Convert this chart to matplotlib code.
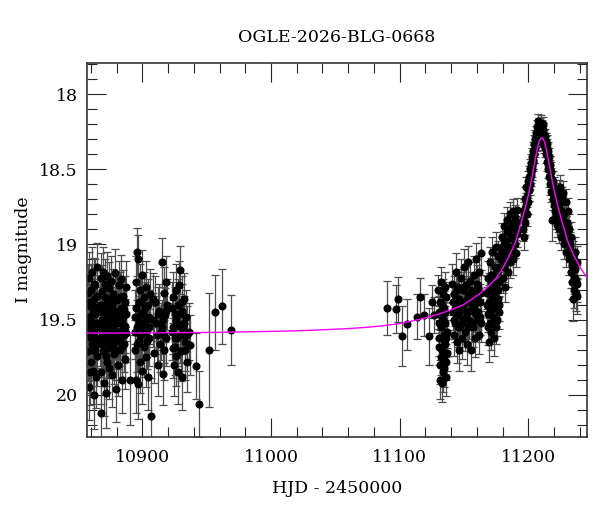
import numpy as np
from matplotlib import pyplot as plt
from matplotlib.ticker import MultipleLocator

# ---- photometry (HJD - 2450000, I mag, error) ----
hjd = [10857.6, 10857.9, 10858.3, 10858.6, 10858.9, 10859.2, 10859.5, 10859.8, 10860.1, 10860.4,
       10860.7, 10861.0, 10861.3, 10861.6, 10861.9, 10862.2, 10862.5, 10862.8, 10863.1, 10863.4,
       10863.7, 10864.0, 10864.3, 10864.6, 10864.9,
       10867.0, 10867.3, 10867.6, 10867.9, 10868.2, 10868.5, 10868.8, 10869.1, 10869.4, 10869.7,
       10870.0, 10870.3, 10870.6, 10870.9, 10871.2, 10871.5, 10871.8, 10872.1, 10872.4, 10872.7,
       10873.0, 10873.3, 10873.6, 10873.9, 10874.2, 10874.5, 10875.0, 10875.5, 10876.0, 10876.5,
       10877.0, 10877.5, 10878.0, 10878.5, 10879.0, 10879.5, 10880.0, 10880.5, 10881.0, 10881.5,
       10882.0, 10882.5, 10883.0, 10883.5, 10884.0, 10884.5, 10885.0, 10885.5, 10886.0, 10886.5,
       10887.0, 10887.5, 10890.2,
       10894.0, 10894.4, 10894.8, 10895.2, 10895.6, 10896.0, 10896.4, 10896.8, 10897.2, 10897.6,
       10898.0, 10898.4, 10898.8, 10899.2, 10899.6, 10900.0, 10900.5, 10901.0, 10901.5, 10902.0,
       10902.5, 10903.0, 10903.5, 10904.0, 10904.5, 10905.0, 10906.0, 10907.0, 10908.0, 10909.0,
       10910.0, 10911.0, 10912.0, 10913.0, 10914.0, 10915.0, 10915.5, 10916.0, 10916.5, 10917.0,
       10917.5, 10918.0, 10918.5, 10919.0,
       10923.0, 10923.5, 10924.0, 10924.5, 10925.0, 10925.5, 10926.0, 10926.5, 10927.0, 10927.5,
       10928.0, 10928.5, 10929.0, 10929.5, 10930.0, 10930.5, 10931.0, 10931.5, 10932.0, 10933.0,
       10934.0, 10935.0, 10936.0, 10937.0,
       10942.0, 10944.0, 10952.0, 10956.4, 10961.6, 10968.6,
       11090.3, 11096.9, 11098.9, 11101.8, 11105.9, 11113.7, 11115.8, 11118.6, 11122.8, 11124.8,
       11126.9,
       11130.2, 11130.5, 11130.8, 11131.1, 11131.4, 11131.7, 11132.0, 11132.3, 11132.6, 11132.9,
       11133.2, 11133.5, 11133.8, 11134.1, 11134.4, 11134.7, 11135.0, 11135.3, 11135.6, 11135.9,
       11136.2, 11136.5, 11136.8,
       11141.0, 11141.5, 11142.0, 11142.5, 11143.0, 11143.5, 11144.0, 11144.5, 11145.0, 11145.5,
       11146.0, 11146.5, 11147.0, 11147.5, 11148.0, 11148.5, 11149.0, 11149.5, 11150.0, 11150.5,
       11151.0, 11151.5, 11152.0, 11152.5, 11153.0, 11153.5, 11154.0, 11154.5, 11155.0, 11155.5,
       11156.0, 11156.5, 11157.0, 11157.5, 11158.0, 11158.5, 11159.0, 11159.5, 11160.0, 11160.5,
       11161.0, 11161.5, 11162.0, 11162.5, 11163.0, 11163.5,
       11168.0, 11168.4, 11168.8, 11169.2, 11169.6, 11170.0, 11170.4, 11170.8, 11171.2, 11171.6,
       11172.0, 11172.4, 11172.8, 11173.2, 11173.6, 11174.0, 11174.4, 11174.8, 11175.2, 11175.6,
       11176.0, 11176.4, 11176.8, 11177.2, 11177.6,
       11179.0, 11179.5, 11180.0, 11180.5, 11181.0, 11181.5, 11182.0, 11182.5, 11183.0, 11183.5,
       11184.0, 11184.5, 11185.0, 11185.5, 11186.0, 11186.5, 11187.0, 11187.5, 11188.0, 11188.5,
       11189.0, 11189.5, 11190.0, 11190.5, 11191.0, 11191.5,
       11196.0, 11196.4, 11196.8, 11197.2, 11197.6, 11198.0, 11198.4, 11198.8, 11199.2, 11199.6,
       11200.0, 11200.4, 11200.8, 11201.2, 11201.6, 11202.0, 11202.4, 11202.8, 11203.2, 11203.6,
       11204.0, 11204.4,
       11204.8, 11205.2, 11205.6, 11206.0, 11206.4, 11206.8, 11207.2, 11207.6, 11208.0, 11208.4,
       11208.8, 11209.2, 11209.6, 11210.0, 11210.4, 11210.8, 11211.2, 11211.6, 11212.0, 11212.4,
       11212.8, 11213.2, 11213.6,
       11214.0, 11214.4, 11214.8, 11215.2, 11215.6, 11216.0, 11216.4, 11216.8, 11217.2, 11217.6,
       11218.0, 11218.7, 11219.0, 11219.4, 11219.8, 11220.2, 11220.6, 11221.0, 11221.4, 11221.8,
       11222.2, 11222.6,
       11223.0, 11223.5, 11224.0, 11224.5, 11225.0, 11225.5, 11226.0, 11226.5, 11227.0, 11227.5,
       11228.0, 11228.5, 11229.0, 11229.5, 11230.0, 11230.5, 11231.0, 11231.5, 11232.0, 11232.5,
       11233.0, 11233.5, 11234.0, 11234.4, 11234.7, 11235.0, 11235.5, 11236.0, 11236.5, 11237.0,
       11237.5, 11238.0]

imag = [19.32, 19.71, 19.48, 19.95, 19.22, 19.60, 19.41, 19.78, 19.30, 19.55,
        19.66, 19.18, 19.84, 19.45, 19.58, 20.00, 19.36, 19.70, 19.27, 19.52,
        19.88, 19.42, 19.63, 19.15, 19.74,
        19.40, 19.62, 19.22, 19.85, 20.12, 19.50, 19.31, 19.71, 19.18, 19.57,
        19.44, 19.92, 19.35, 19.66, 19.26, 19.53, 19.99, 19.47, 19.78, 19.21,
        19.60, 19.38, 19.69, 19.29, 19.82, 19.51, 19.42, 19.64, 19.24, 19.87,
        19.55, 19.33, 19.73, 19.19, 19.48, 19.96, 19.61, 19.37, 19.80, 19.27,
        19.58, 19.45, 19.70, 19.23, 19.90, 19.52, 19.34, 19.66, 19.43, 19.76,
        19.28, 19.59, 19.90,
        19.48, 19.70, 19.25, 19.90, 19.05, 19.55, 19.10, 19.93, 19.38, 19.64,
        19.30, 19.78, 19.46, 19.60, 19.20, 19.84, 19.52, 19.35, 19.68, 19.42,
        19.75, 19.28, 19.57, 19.88, 19.40, 19.62, 19.33, 20.14, 19.50, 19.72,
        19.38, 19.60, 19.80, 19.44, 19.66, 19.12, 19.55, 19.86, 19.32, 19.70,
        19.47, 19.25, 19.62, 19.40,
        19.58, 19.69, 19.35, 19.80, 19.46, 19.62, 19.30, 19.74, 19.52, 19.40,
        19.85, 19.27, 19.60, 19.17, 19.71, 19.44, 19.88, 19.55, 19.36, 19.65,
        19.48, 19.78, 19.58, 19.67,
        19.81, 20.06, 19.70, 19.45, 19.41, 19.57,
        19.42, 19.43, 19.365, 19.61, 19.53, 19.48, 19.35, 19.47, 19.61, 19.38,
        19.47,
        19.30, 19.45, 19.62, 19.80, 19.38, 19.90, 19.55, 19.25, 19.70, 19.92,
        19.48, 19.33, 19.85, 19.60, 19.42, 19.76, 19.28, 19.66, 19.52, 19.88,
        19.35, 19.58, 19.72,
        19.26, 19.45, 19.60, 19.33, 19.52, 19.18, 19.40, 19.65, 19.28, 19.47,
        19.70, 19.36, 19.55, 19.22, 19.42, 19.62, 19.30, 19.50, 19.15, 19.38,
        19.58, 19.27, 19.45, 19.66, 19.33, 19.12, 19.50, 19.38, 19.24, 19.70,
        19.44, 19.30, 19.55, 19.20, 19.40, 19.62, 19.10, 19.35, 19.50, 19.26,
        19.45, 19.60, 19.18, 19.38, 19.06, 19.52,
        19.40, 19.22, 19.55, 19.30, 19.65, 19.12, 19.44, 19.25, 19.58, 19.35,
        19.05, 19.48, 19.20, 19.62, 19.32, 19.15, 19.42, 19.02, 19.28, 19.50,
        19.18, 19.36, 19.08, 19.25, 19.45,
        19.10, 18.95, 19.22, 19.02, 18.88, 19.15, 19.28, 18.98, 19.08, 18.84,
        19.18, 18.92, 19.05, 18.80, 19.12, 18.96, 18.86, 19.02, 18.78, 19.10,
        18.90, 19.00, 18.82, 19.06, 18.93, 18.77,
        18.90, 18.78, 18.95, 18.70, 18.86, 18.74, 18.62, 18.80, 18.68, 18.58,
        18.72, 18.55, 18.64, 18.50, 18.60, 18.46, 18.54, 18.42, 18.50, 18.38,
        18.45, 18.33,
        18.40, 18.30, 18.36, 18.26, 18.32, 18.22, 18.28, 18.18, 18.25, 18.21,
        18.30, 18.24, 18.19, 18.27, 18.22, 18.32, 18.26, 18.20, 18.29, 18.34,
        18.28, 18.36, 18.31,
        18.40, 18.33, 18.45, 18.38, 18.50, 18.42, 18.55, 18.47, 18.60, 18.52,
        18.65, 18.84, 18.58, 18.70, 18.62, 18.74, 18.66, 18.78, 18.70, 18.82,
        18.74, 18.87,
        18.78, 18.90, 18.65, 18.84, 18.62, 18.95, 18.70, 18.88, 18.66, 19.00,
        18.80, 18.92, 18.72, 19.05, 18.86, 18.98, 18.78, 19.10, 18.90, 19.02,
        19.18, 18.95, 19.25, 19.08, 19.36, 19.15, 19.30, 19.05, 19.22, 19.32,
        19.12, 19.26]

ierr = [0.18, 0.20, 0.16, 0.22, 0.17, 0.19, 0.15, 0.21, 0.17, 0.18,
        0.20, 0.16, 0.22, 0.17, 0.19, 0.23, 0.16, 0.20, 0.17, 0.18,
        0.21, 0.17, 0.19, 0.16, 0.20,
        0.17, 0.19, 0.16, 0.21, 0.24, 0.18, 0.17, 0.20, 0.16, 0.18,
        0.17, 0.22, 0.17, 0.19, 0.16, 0.18, 0.23, 0.18, 0.20, 0.16,
        0.19, 0.17, 0.20, 0.17, 0.21, 0.18, 0.17, 0.19, 0.16, 0.21,
        0.18, 0.17, 0.20, 0.16, 0.18, 0.22, 0.19, 0.17, 0.21, 0.16,
        0.18, 0.18, 0.20, 0.16, 0.22, 0.18, 0.17, 0.19, 0.17, 0.20,
        0.17, 0.19, 0.30,
        0.18, 0.20, 0.17, 0.22, 0.16, 0.18, 0.16, 0.23, 0.17, 0.19,
        0.17, 0.21, 0.18, 0.19, 0.16, 0.22, 0.18, 0.17, 0.20, 0.17,
        0.20, 0.17, 0.18, 0.22, 0.17, 0.19, 0.17, 0.25, 0.18, 0.20,
        0.17, 0.19, 0.21, 0.18, 0.19, 0.16, 0.18, 0.21, 0.17, 0.20,
        0.18, 0.17, 0.19, 0.17,
        0.19, 0.20, 0.17, 0.21, 0.18, 0.19, 0.17, 0.20, 0.18, 0.17,
        0.21, 0.16, 0.19, 0.16, 0.20, 0.18, 0.22, 0.18, 0.17, 0.19,
        0.18, 0.20, 0.19, 0.20,
        0.22, 0.22, 0.38, 0.25, 0.25, 0.235,
        0.18, 0.16, 0.15, 0.20, 0.17, 0.15, 0.13, 0.14, 0.19, 0.11,
        0.12,
        0.10, 0.11, 0.12, 0.13, 0.10, 0.13, 0.11, 0.10, 0.12, 0.13,
        0.11, 0.10, 0.13, 0.12, 0.11, 0.12, 0.10, 0.12, 0.11, 0.13,
        0.10, 0.11, 0.12,
        0.13, 0.12, 0.14, 0.12, 0.13, 0.12, 0.12, 0.14, 0.12, 0.13,
        0.14, 0.12, 0.13, 0.12, 0.12, 0.14, 0.12, 0.13, 0.12, 0.12,
        0.13, 0.12, 0.12, 0.14, 0.12, 0.11, 0.13, 0.12, 0.12, 0.14,
        0.12, 0.12, 0.13, 0.12, 0.12, 0.13, 0.11, 0.12, 0.13, 0.12,
        0.12, 0.13, 0.11, 0.12, 0.11, 0.13,
        0.12, 0.11, 0.12, 0.11, 0.13, 0.10, 0.11, 0.11, 0.12, 0.11,
        0.10, 0.11, 0.10, 0.12, 0.11, 0.10, 0.11, 0.10, 0.10, 0.11,
        0.10, 0.11, 0.10, 0.10, 0.11,
        0.10, 0.09, 0.10, 0.09, 0.09, 0.10, 0.10, 0.09, 0.10, 0.09,
        0.10, 0.09, 0.09, 0.08, 0.10, 0.09, 0.09, 0.09, 0.08, 0.10,
        0.09, 0.09, 0.08, 0.09, 0.09, 0.08,
        0.08, 0.08, 0.09, 0.08, 0.08, 0.08, 0.07, 0.08, 0.07, 0.07,
        0.08, 0.07, 0.07, 0.07, 0.07, 0.06, 0.07, 0.06, 0.07, 0.06,
        0.06, 0.06,
        0.06, 0.06, 0.06, 0.05, 0.06, 0.05, 0.05, 0.05, 0.05, 0.05,
        0.05, 0.05, 0.05, 0.05, 0.05, 0.05, 0.05, 0.05, 0.05, 0.05,
        0.05, 0.06, 0.05,
        0.06, 0.06, 0.06, 0.06, 0.06, 0.06, 0.07, 0.06, 0.07, 0.07,
        0.07, 0.14, 0.07, 0.07, 0.07, 0.08, 0.07, 0.08, 0.07, 0.08,
        0.08, 0.08,
        0.08, 0.09, 0.08, 0.09, 0.08, 0.09, 0.08, 0.09, 0.08, 0.10,
        0.09, 0.09, 0.09, 0.10, 0.09, 0.10, 0.09, 0.10, 0.10, 0.10,
        0.11, 0.10, 0.11, 0.10, 0.15, 0.11, 0.12, 0.10, 0.11, 0.12,
        0.11, 0.12]

# second pass of readings in the crowded stretches
hjd2 = [10857.75, 10858.45, 10859.05, 10859.65, 10860.25, 10860.85, 10861.45, 10862.05, 10862.65,
        10863.25, 10863.85, 10864.45, 10865.0,
        10867.15, 10867.75, 10868.35, 10868.95, 10869.55, 10870.15, 10870.75, 10871.35, 10871.95,
        10872.55, 10873.15, 10873.75, 10874.35, 10874.75, 10875.25, 10875.75, 10876.25, 10876.75,
        10877.25, 10877.75, 10878.25, 10878.75, 10879.25, 10879.75, 10880.25, 10880.75, 10881.25,
        10881.75, 10882.25, 10882.75, 10883.25, 10883.75, 10884.25, 10884.75, 10885.25, 10885.75,
        10886.25, 10886.75, 10887.25,
        10894.2, 10895.0, 10895.8, 10896.6, 10897.4, 10898.2, 10899.0, 10899.8, 10900.8, 10901.8,
        10902.8, 10903.8, 10904.8, 10905.5, 10908.5, 10910.5, 10912.5, 10914.5, 10916.2, 10917.2,
        10918.2,
        10923.2, 10924.2, 10925.2, 10926.2, 10927.2, 10928.2, 10929.2, 10930.2, 10931.2, 10932.5,
        10933.5, 10934.5,
        11130.35, 11130.95, 11131.55, 11132.15, 11132.75, 11133.35, 11133.95, 11134.55, 11135.15,
        11135.75, 11136.35,
        11141.25, 11142.25, 11143.25, 11144.25, 11145.25, 11146.25, 11147.25, 11148.25, 11149.25,
        11150.25, 11151.25, 11152.25, 11153.25, 11154.25, 11155.25, 11156.25, 11157.25, 11158.25,
        11159.25, 11160.25, 11161.25, 11162.25, 11163.25,
        11168.2, 11169.0, 11169.8, 11170.6, 11171.4, 11172.2, 11173.0, 11173.8, 11174.6, 11175.4,
        11176.2, 11177.0, 11177.8,
        11179.25, 11180.25, 11181.25, 11182.25, 11183.25, 11184.25, 11185.25, 11186.25, 11187.25,
        11188.25, 11189.25, 11190.25, 11191.25,
        11196.2, 11197.0, 11197.8, 11198.6, 11199.4, 11200.2, 11201.0, 11201.8, 11202.6, 11203.4,
        11204.2,
        11205.0, 11206.2, 11207.0, 11207.8, 11208.6, 11209.4, 11210.2, 11211.0, 11211.8, 11212.6,
        11213.4, 11214.2, 11215.0, 11215.8, 11216.6, 11217.4, 11218.2, 11219.2, 11220.0, 11221.2,
        11222.4,
        11223.25, 11224.25, 11225.25, 11226.25, 11227.25, 11228.25, 11229.25, 11230.25, 11231.25,
        11232.25, 11233.25, 11234.2, 11235.25, 11236.25, 11237.25, 11237.8]

imag2 = [19.55, 19.38, 19.85, 19.50, 19.62, 19.40, 19.70, 19.26, 19.58,
         19.46, 19.67, 19.34, 19.52,
         19.55, 19.45, 19.66, 19.58, 19.40, 19.62, 19.50, 19.74, 19.40,
         19.56, 19.48, 19.60, 19.36, 19.68, 19.53, 19.46, 19.60, 19.40,
         19.66, 19.50, 19.58, 19.44, 19.70, 19.36, 19.52, 19.64, 19.47,
         19.58, 19.35, 19.62, 19.50, 19.42, 19.68, 19.56, 19.48, 19.60,
         19.38, 19.54, 19.46,
         19.58, 19.42, 19.66, 19.48, 19.52, 19.60, 19.38, 19.55, 19.45, 19.58,
         19.50, 19.64, 19.48, 19.55, 19.36, 19.52, 19.46, 19.58, 19.50, 19.60,
         19.44,
         19.42, 19.55, 19.68, 19.50, 19.62, 19.46, 19.54, 19.60, 19.38, 19.52,
         19.70, 19.60,
         19.52, 19.68, 19.46, 19.75, 19.40, 19.63, 19.50, 19.82, 19.45,
         19.62, 19.78,
         19.38, 19.50, 19.42, 19.30, 19.55, 19.45, 19.38, 19.52, 19.40,
         19.28, 19.48, 19.36, 19.55, 19.44, 19.34, 19.52, 19.42, 19.30,
         19.46, 19.38, 19.28, 19.48, 19.32,
         19.32, 19.46, 19.38, 19.52, 19.20, 19.35, 19.40, 19.26, 19.55, 19.38,
         19.30, 19.40, 19.15,
         19.05, 19.12, 19.00, 19.10, 18.92, 19.02, 18.90, 19.04, 18.95,
         18.88, 18.96, 18.90, 18.85,
         18.84, 18.80, 18.76, 18.70, 18.62, 18.64, 18.56, 18.52, 18.48, 18.44,
         18.40,
         18.34, 18.30, 18.25, 18.22, 18.27, 18.21, 18.24, 18.28, 18.24, 18.30,
         18.33, 18.36, 18.42, 18.46, 18.50, 18.56, 18.58, 18.64, 18.68, 18.74,
         18.78,
         18.84, 18.74, 18.80, 18.78, 18.84, 18.86, 18.90, 18.94, 18.96,
         19.00, 19.08, 19.14, 19.22, 19.16, 19.24, 19.34]

ierr2 = [0.19, 0.17, 0.22, 0.18, 0.19, 0.17, 0.20, 0.17, 0.18,
         0.18, 0.19, 0.17, 0.18,
         0.18, 0.17, 0.19, 0.18, 0.17, 0.19, 0.18, 0.20, 0.17,
         0.18, 0.18, 0.19, 0.17, 0.19, 0.18, 0.18, 0.19, 0.17,
         0.19, 0.18, 0.18, 0.18, 0.20, 0.17, 0.18, 0.19, 0.18,
         0.19, 0.17, 0.19, 0.18, 0.17, 0.20, 0.18, 0.18, 0.19,
         0.17, 0.18, 0.18,
         0.18, 0.17, 0.19, 0.18, 0.18, 0.19, 0.17, 0.18, 0.18, 0.19,
         0.18, 0.19, 0.18, 0.18, 0.17, 0.18, 0.18, 0.19, 0.18, 0.19,
         0.18,
         0.17, 0.18, 0.19, 0.18, 0.19, 0.18, 0.18, 0.19, 0.17, 0.18,
         0.20, 0.19,
         0.11, 0.12, 0.11, 0.12, 0.11, 0.12, 0.11, 0.13, 0.11,
         0.12, 0.12,
         0.12, 0.13, 0.12, 0.12, 0.13, 0.12, 0.12, 0.13, 0.12,
         0.12, 0.13, 0.12, 0.13, 0.12, 0.12, 0.13, 0.12, 0.12,
         0.12, 0.12, 0.12, 0.12, 0.12,
         0.11, 0.12, 0.11, 0.12, 0.11, 0.11, 0.11, 0.11, 0.11, 0.11,
         0.10, 0.11, 0.10,
         0.10, 0.10, 0.09, 0.10, 0.09, 0.09, 0.09, 0.09, 0.09,
         0.09, 0.09, 0.09, 0.08,
         0.08, 0.08, 0.08, 0.08, 0.07, 0.07, 0.07, 0.07, 0.07, 0.06,
         0.06,
         0.06, 0.05, 0.05, 0.05, 0.05, 0.05, 0.05, 0.05, 0.05, 0.05,
         0.05, 0.06, 0.06, 0.06, 0.06, 0.07, 0.07, 0.07, 0.07, 0.08,
         0.08,
         0.08, 0.08, 0.09, 0.09, 0.09, 0.09, 0.09, 0.10, 0.10,
         0.10, 0.10, 0.11, 0.11, 0.11, 0.12, 0.12]

# ---- model curve ----
model_hjd = [10857.0, 10900.0, 10960.0, 11010.0, 11035.0, 11060.0, 11075.0, 11085.0, 11100.0,
             11115.0, 11130.0, 11140.0, 11150.0, 11162.0, 11170.0, 11175.0, 11180.0, 11185.0,
             11190.0, 11194.0, 11198.0, 11200.5, 11202.5, 11204.5, 11205.5, 11206.5, 11207.5,
             11208.5, 11209.5, 11210.0, 11210.5, 11211.0, 11211.5, 11212.5, 11213.5, 11214.5,
             11215.5, 11216.5, 11218.5, 11220.5, 11223.0, 11225.5, 11230.5, 11235.5, 11240.5,
             11245.5]
model_mag = [19.590, 19.589, 19.585, 19.577, 19.570, 19.560, 19.551, 19.543, 19.527,
             19.500, 19.465, 19.435, 19.400, 19.330, 19.270, 19.225, 19.160, 19.080,
             18.985, 18.870, 18.745, 18.655, 18.570, 18.478, 18.430, 18.385, 18.345,
             18.315, 18.296, 18.2915, 18.290, 18.2915, 18.296, 18.315, 18.345, 18.385,
             18.430, 18.478, 18.570, 18.655, 18.745, 18.825, 18.975, 19.075, 19.155,
             19.220]

t_all = hjd + hjd2
m_all = imag + imag2
e_all = ierr + ierr2

plt.rcParams['font.family'] = ['DejaVu Serif']

fig = plt.figure(figsize=(6, 5.12), dpi=100)
ax = fig.add_axes([0.1455, 0.147, 0.8323, 0.7305])

ax.errorbar(t_all, m_all, yerr=e_all, fmt='o', color='black', ms=4.8, ecolor='0.3',
            elinewidth=0.9, capsize=2.6, capthick=0.9, zorder=2)
ax.plot(model_hjd, model_mag, color='#ff00ff', lw=1.0, zorder=3)

ax.set_xlim(10857.2, 11245.4)
ax.set_ylim(20.28, 17.79)

ax.xaxis.set_major_locator(MultipleLocator(100))
ax.xaxis.set_minor_locator(MultipleLocator(20))
ax.yaxis.set_major_locator(MultipleLocator(0.5))
ax.yaxis.set_minor_locator(MultipleLocator(0.1))
ax.yaxis.set_major_formatter(plt.FuncFormatter(lambda v, p: '%g' % v))

ax.tick_params(which='both', direction='in', top=True, right=True, width=0.8, colors='0.15',
               labelcolor='black', labelsize=12.5)
ax.tick_params(which='major', length=13.7)
ax.tick_params(which='minor', length=7.2)
ax.tick_params(axis='x', pad=9)
ax.tick_params(axis='y', pad=7)
for s in ax.spines.values():
    s.set_linewidth(1.2)
    s.set_color('0.2')

ax.set_xlabel('HJD - 2450000', fontsize=12.5, labelpad=10)
ax.set_ylabel('I magnitude', fontsize=12.5, labelpad=5)
ax.set_title('OGLE-2026-BLG-0668', fontsize=12.5, pad=15)

fig.savefig('out.png', dpi=100)
